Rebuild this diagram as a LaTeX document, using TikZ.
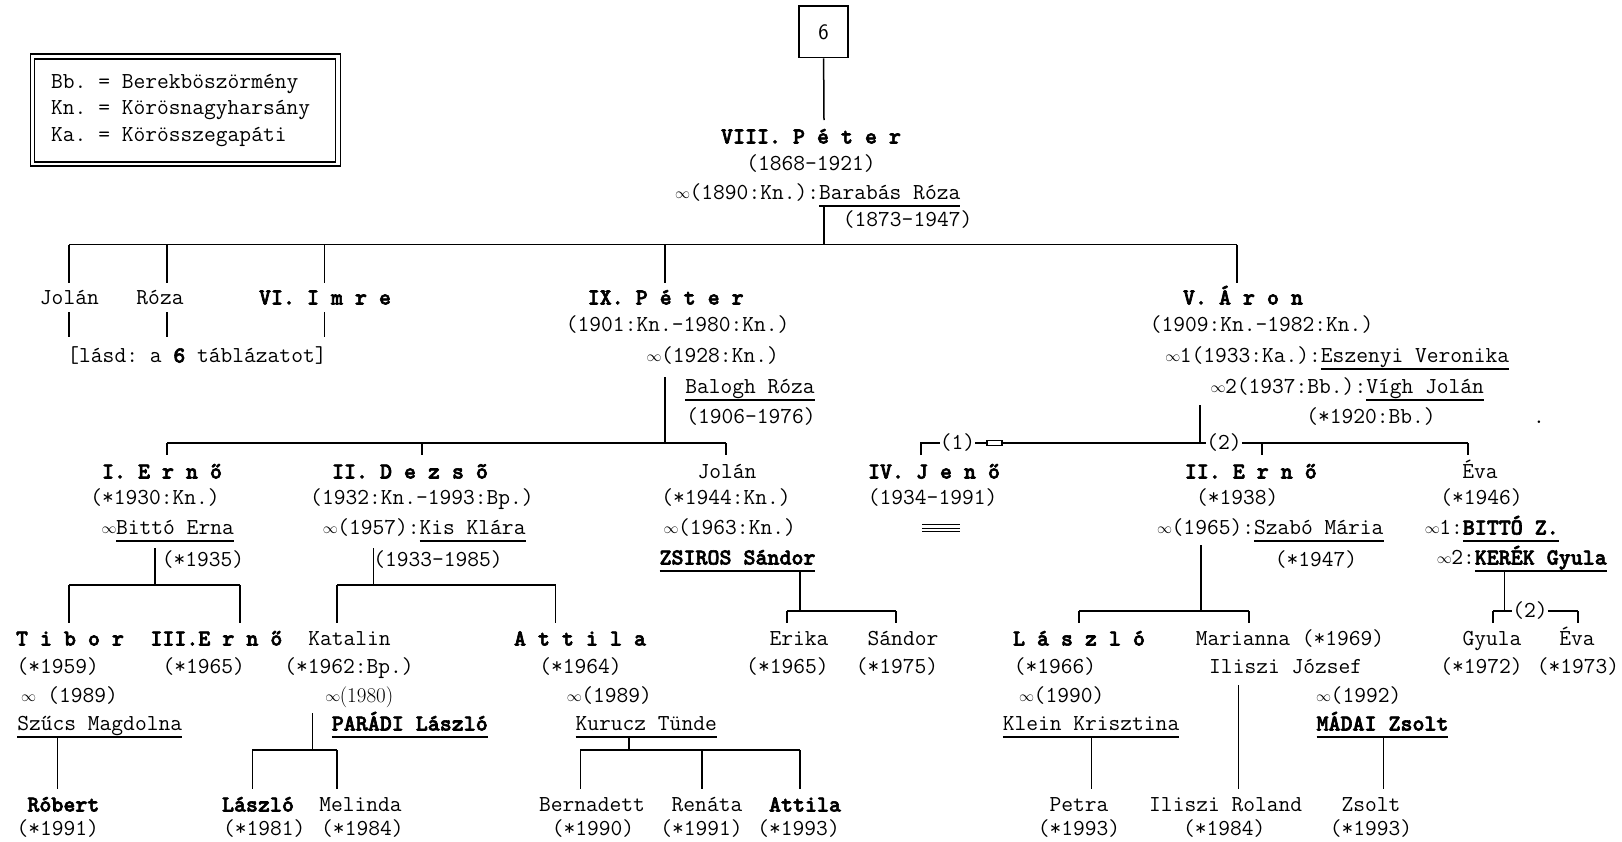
\documentclass[tikz,border=0pt]{standalone}
\usepackage{graphicx}
\newcommand\tf{\ttfamily\frenchspacing\fontsize{22.85}{26}\selectfont}
\newcommand\inff{\makebox[14pt]{\raisebox{1.2pt}{\resizebox{15pt}{!}{$\infty$}}}}
\newcommand\hb[1]{{\bfseries\special{pdf:literal direct 2 Tr 0.6 w}#1\special{pdf:literal direct 0 Tr}}}
\newsavebox\ulbox
\newcommand\ulin[1]{\sbox\ulbox{#1}\rlap{\rule[-7.2pt]{\wd\ulbox}{1.8pt}}\usebox\ulbox}
\tikzset{
  nm/.style={font=\tf, inner sep=0pt, text height=16pt, text depth=3pt},
  bnm/.style={nm},
  conn/.style={line width=1.5pt},
  thinl/.style={line width=1.1pt},
}
\begin{document}
\begin{tikzpicture}[x=1pt,y=-1pt]
\useasboundingbox (0,0) rectangle (1622,841);
\fill[white] (0,0) rectangle (1622,841);

% legend
\draw[thinl] (30.3,54) rectangle (340.2,166);
\draw[thinl] (34.4,59) rectangle (335.7,162);
\node[nm,anchor=west] (lg1) at (51,82) {Bb. = Berekböszörmény};
\node[nm,anchor=west] (lg2) at (51,108) {Kn. = Körösnagyharsány};
\node[nm,anchor=west] (lg3) at (51,135) {Ka. = Körösszegapáti};

% top
\node[draw,line width=1.4pt,minimum width=49pt,minimum height=51.7pt,inner sep=0pt,font=\sffamily\fontsize{22}{24}\selectfont] (box6) at (823.6,31.9) {6};
\node[bnm] (p8) at (811,137) {\hb{VIII. P é t e r}};
\node[nm] (p8d) at (811,164) {(1868-1921)};
\node[nm] (p8m) at (818,193) {\inff(1890:Kn.):\ulin{Barabás Róza}};
\node[nm] (p8w) at (907.6,220) {(1873-1947)};
\draw[conn] (box6.south) -- (824,120) coordinate (p8top);
\draw[conn] (824,206) coordinate (p8u) -- (824,244.5) coordinate (g1c);

% generation 1
\draw[conn] (69,244.5) coordinate (g1l) -- (1237,244.5) coordinate (g1r);
\foreach \x in {69,167,324.7,665,1237} \draw[conn] (\x,244.5) -- (\x,283);
\foreach \x in {69,167,324.7} \draw[conn] (\x,312) -- (\x,337);
\node[nm] (jolan1) at (69.4,298) {Jolán};
\node[nm] (roza1) at (160,298) {Róza};
\node[bnm] (imre) at (325,298) {\hb{VI. I m r e}};
\node[nm] (lasd) at (197,356) {[lásd: a \hb{6} táblázatot]};

% IX Peter
\node[bnm] (p9) at (665.7,298) {\hb{IX. P é t e r}};
\node[nm] (p9d) at (677.7,325) {(1901:Kn.-1980:Kn.)};
\node[nm] (p9m) at (713,356) {\inff(1928:Kn.)};
\node[nm] (p9w) at (750,387) {\ulin{Balogh Róza}};
\node[nm] (p9wd) at (751,417) {(1906-1976)};
\draw[conn] (665,377) -- (665,443);
\draw[conn] (167,443) -- (726,443);
\foreach \x in {167,421.8,726} \draw[conn] (\x,443) -- (\x,455);

% V Aron
\node[bnm] (aron) at (1243,298) {\hb{V. Á r o n}};
\node[nm] (arond) at (1261.5,325) {(1909:Kn.-1982:Kn.)};
\node[nm] (aronm1) at (1337.5,356) {\inff1(1933:Ka.):\ulin{Eszenyi Veronika}};
\node[nm] (aronm2) at (1347.5,387) {\inff2(1937:Bb.):\ulin{Vígh Jolán}};
\node[nm] (aronw) at (1371,417) {(*1920:Bb.)};
\node[nm] (dot) at (1539,417) {.};
\draw[conn] (1200,405) -- (1200,443);
\node[nm] (l1) at (957.5,443) {(1)};
\node[nm] (l2) at (1224,443) {(2)};
\draw[conn] (921,455) -- (921,443) -- (l1.west);
\draw[conn] (l1.east) -- (987,443);
\draw[line width=1.2pt] (987,440.5) rectangle (1002,445.5);
\draw[conn] (1002,443) -- (l2.west);
\draw[conn] (l2.east) -- (1468,443);
\foreach \x in {1262,1468} \draw[conn] (\x,443) -- (\x,455);

% generation 2, left
\node[bnm] (erno1) at (162,472) {\hb{I. E r n ő}};
\node[nm] at (155,498) {(*1930:Kn.)};
\node[nm] at (168,528) {\inff\ulin{Bittó Erna}};
\node[nm] at (203,560) {(*1935)};
\draw[conn] (155,548) -- (155,585);
\draw[conn] (69,585) -- (240,585);
\foreach \x in {69,240} \draw[conn] (\x,585) -- (\x,623);

\node[bnm] (dezso) at (410,472) {\hb{II. D e z s õ}};
\node[nm] at (422,498) {(1932:Kn.-1993:Bp.)};
\node[nm] at (424.4,528) {\inff(1957):\ulin{Kis Klára}};
\node[nm] at (438,560) {(1933-1985)};
\draw[conn] (373.6,548) -- (373.6,585);
\draw[conn] (337,585) -- (555.5,585);
\foreach \x in {337,555.5} \draw[conn] (\x,585) -- (\x,623);

\node[nm] (jolan2) at (727,472) {Jolán};
\node[nm] at (726,498) {(*1944:Kn.)};
\node[nm] at (730,528) {\inff(1963:Kn.)};
\node[nm] (zsiros) at (737.5,558) {\ulin{\hb{ZSIROS Sándor}}};
\draw[conn] (800,572) -- (800,611);
\draw[conn] (787,611) -- (896,611);
\foreach \x in {787,896} \draw[conn] (\x,611) -- (\x,623);

% generation 2, right
\node[bnm] (jeno) at (934,472) {\hb{IV. J e n ő}};
\node[nm] at (932.6,498) {(1934-1991)};
\foreach \y in {524.4,528,531.6} \draw[line width=0.9pt] (922,\y) -- (960,\y);

\node[bnm] (erno2) at (1250.8,472) {\hb{II. E r n ő}};
\node[nm] at (1237.3,498) {(*1938)};
\node[nm] at (1270.6,528) {\inff(1965):\ulin{Szabó Mária}};
\node[nm] at (1316,560) {(*1947)};
\draw[conn] (1201,545) -- (1201,611);
\draw[conn] (1079,611) -- (1249,611);
\foreach \x in {1079,1249} \draw[conn] (\x,611) -- (\x,623);

\node[nm] (eva) at (1480,472) {Éva};
\node[nm] at (1481.5,498) {(*1946)};
\node[nm] at (1492,528) {\inff1:\ulin{\hb{BITTÓ Z.}}};
\node[nm] at (1522,558) {\inff2:\ulin{\hb{KERÉK Gyula}}};
\node[nm] (l3) at (1530,611) {(2)};
\draw[conn] (1504.5,572) -- (1504.5,611);
\draw[conn] (1493,611) -- (l3.west);
\draw[conn] (l3.east) -- (1578,611);
\foreach \x in {1493,1578} \draw[conn] (\x,611) -- (\x,623);

% generation 3
\node[bnm] at (70,639) {\hb{T i b o r}};
\node[nm] at (57.7,667) {(*1959)};
\node[nm] at (69.7,696) {\inff{} (1989)};
\node[nm] at (99.7,724) {\ulin{Szűcs Magdolna}};
\draw[conn] (57.5,736) -- (57.5,789);
\node[bnm] at (63.4,805) {\hb{Róbert}};
\node[nm] at (57.7,829) {(*1991)};

\node[bnm] at (216.4,639) {\hb{III.E r n ő}};
\node[nm] at (203.7,667) {(*1965)};

\node[nm] at (349.5,639) {Katalin};
\node[nm] at (349,667) {(*1962:Bp.)};
\node[nm] at (359.5,696) {\inff\textrm{\fontsize{21}{24}\selectfont(1980)}};
\node[nm] at (409.8,724) {\ulin{\hb{PARÁDI László}}};
\draw[conn] (312.7,713) -- (312.7,750);
\draw[conn] (252.4,750) -- (336.8,750);
\foreach \x in {252.4,336.8} \draw[conn] (\x,750) -- (\x,789);
\node[bnm] at (258,805) {\hb{László}};
\node[nm] at (264.3,829) {(*1981)};
\node[nm] at (360.5,805) {Melinda};
\node[nm] at (362.4,829) {(*1984)};

\node[bnm] at (580,639) {\hb{A t t i l a}};
\node[nm] at (580.5,667) {(*1964)};
\node[nm] at (609.7,696) {\inff(1989)};
\node[nm] at (646.2,724) {\ulin{Kurucz Tünde}};
\draw[conn] (628.8,736) -- (628.8,750);
\draw[conn] (580.3,750) -- (800,750);
\foreach \x in {580.3,701.8,800} \draw[conn] (\x,750) -- (\x,789);
\node[nm] at (592,805) {Bernadett};
\node[nm] at (593,829) {(*1990)};
\node[nm] at (707,805) {Renáta};
\node[nm] at (701.5,829) {(*1991)};
\node[bnm] at (805,805) {\hb{Attila}};
\node[nm] at (798.6,829) {(*1993)};

\node[nm] at (799,639) {Erika};
\node[nm] at (787.4,667) {(*1965)};
\node[nm] at (903,639) {Sándor};
\node[nm] at (897,667) {(*1975)};

\node[bnm] at (1079,639) {\hb{L á s z l ó}};
\node[nm] at (1055,667) {(*1966)};
\node[nm] at (1062,696) {\inff(1990)};
\node[nm] at (1091,724) {\ulin{Klein Krisztina}};
\draw[conn] (1091.4,736) -- (1091.4,789);
\node[nm] at (1079,805) {Petra};
\node[nm] at (1079,829) {(*1993)};

\node[nm] at (1290,639) {Marianna (*1969)};
\node[nm] at (1285.7,667) {Iliszi József};
\draw[conn] (1238.3,685) -- (1238.3,789);
\node[nm] at (1225.7,805) {Iliszi Roland};
\node[nm] at (1224.3,829) {(*1984)};
\node[nm] at (1359,696) {\inff(1992)};
\node[nm] at (1382.5,724) {\ulin{\hb{MÁDAI Zsolt}}};
\draw[conn] (1383.5,736) -- (1383.5,789);
\node[nm] at (1371,805) {Zsolt};
\node[nm] at (1371,829) {(*1993)};

\node[nm] at (1492,639) {Gyula};
\node[nm] at (1481.5,667) {(*1972)};
\node[nm] at (1577,639) {Éva};
\node[nm] at (1578,667) {(*1973)};
\end{tikzpicture}
\end{document}
